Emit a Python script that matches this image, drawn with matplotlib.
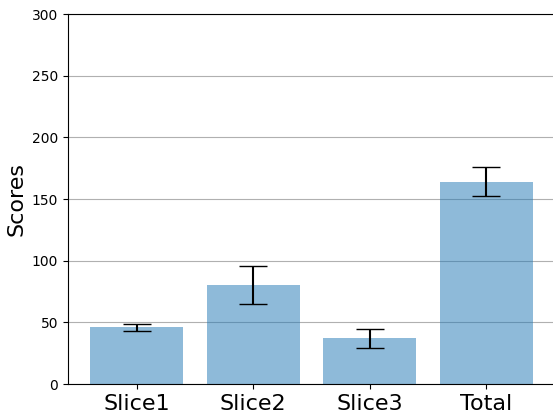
import numpy as np
import matplotlib
matplotlib.use('Agg')
import matplotlib.pyplot as plt

# mean score per slice and its spread
labels = ['Slice1', 'Slice2', 'Slice3', 'Total']
scores = [46, 80.5, 37, 164]
errors = [3, 15.4, 7.8, 11.9]

fig = plt.figure(figsize=(5.53, 4.19), dpi=100)
ax = fig.add_axes([68/553, 35/419, 487/553, 370/419])

x = np.arange(len(labels))
ax.bar(x, scores, yerr=errors, width=0.8, align='center', alpha=0.5,
       ecolor='black', capsize=10)

ax.set_xticks(x)
ax.set_xticklabels(labels, fontsize=16)
ax.set_ylabel('Scores', fontsize=16)
ax.set_ylim(0, 300)
ax.yaxis.grid(True)
ax.set_axisbelow(True)

fig.savefig('out.png', dpi=100)
